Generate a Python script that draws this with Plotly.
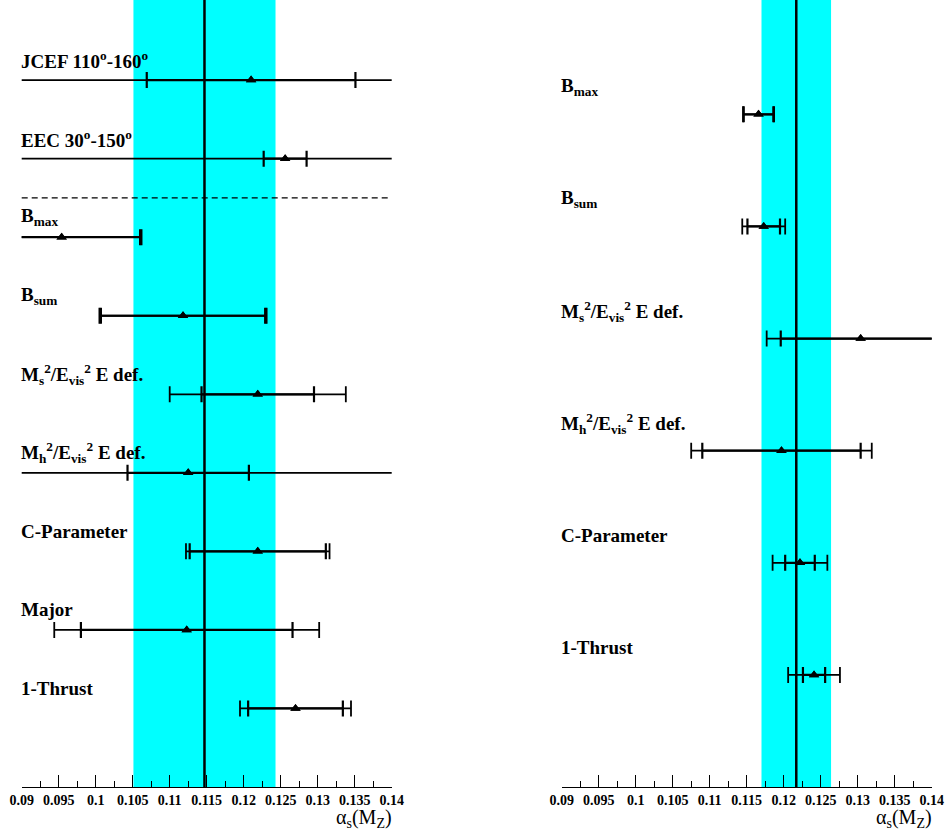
import plotly.graph_objects as go

# ---------------- data ----------------
# Left panel: alpha_s(M_Z) per observable, row index counted from the bottom
left_labels = [
    "1-Thrust",
    "Major",
    "C-Parameter",
    "M<sub>h</sub><sup>2</sup>/E<sub>vis</sub><sup>2</sup> E def.",
    "M<sub>s</sub><sup>2</sup>/E<sub>vis</sub><sup>2</sup> E def.",
    "B<sub>sum</sub>",
    "B<sub>max</sub>",
    "EEC 30<sup>o</sup>-150<sup>o</sup>",
    "JCEF 110<sup>o</sup>-160<sup>o</sup>",
]
left_rows = [1, 2, 3, 4, 5, 6, 7, 8, 9]
left_alpha = [0.1270, 0.1123, 0.1219, 0.1125, 0.1219, 0.1118, 0.0954, 0.1256, 0.1210]
left_stat = [0.0064, 0.0143, 0.0092, 0.0082, 0.0076, 0.0111, 0.0106, 0.0029, 0.0141]
left_total = [0.0075, 0.0179, 0.0097, 0.0300, 0.0119, 0.0113, 0.0108, 0.0400, 0.0350]
left_separator = 7.5
left_mean = 0.1147
left_band_half = 0.0096

# Right panel
right_labels = [
    "1-Thrust",
    "C-Parameter",
    "M<sub>h</sub><sup>2</sup>/E<sub>vis</sub><sup>2</sup> E def.",
    "M<sub>s</sub><sup>2</sup>/E<sub>vis</sub><sup>2</sup> E def.",
    "B<sub>sum</sub>",
    "B<sub>max</sub>",
]
right_rows = [1, 2, 3, 4, 5, 6]
right_alpha = [0.1241, 0.1222, 0.1197, 0.1304, 0.1173, 0.1166]
right_stat = [0.0015, 0.0020, 0.0107, 0.0108, 0.0022, 0.0020]
right_total = [0.0035, 0.0037, 0.0122, 0.0127, 0.0029, 0.0021]
right_mean = 0.1217
right_band_half = 0.0047

tick_vals = [0.09, 0.095, 0.1, 0.105, 0.11, 0.115, 0.12, 0.125, 0.13, 0.135, 0.14]
tick_text = ["0.09", "0.095", "0.1", "0.105", "0.11", "0.115", "0.12", "0.125",
             "0.13", "0.135", "0.14"]
x_range = [0.09, 0.14]

# ---------------- style ----------------
W, H = 946, 835
MARGIN_B = 48
SERIF = "Liberation Serif"
BAND = "#00ffff"

fig = go.Figure()


def add_panel(xa, ya, rows, alpha, stat, total):
    # total uncertainty (outer ticks)
    fig.add_trace(go.Scatter(
        x=alpha, y=rows, xaxis=xa, yaxis=ya, mode="markers",
        marker=dict(symbol="triangle-up", size=9, color="black"),
        error_x=dict(type="data", array=total, symmetric=True,
                     color="black", thickness=1.8, width=8),
        showlegend=False, hoverinfo="skip",
    ))
    # statistical part (inner ticks)
    fig.add_trace(go.Scatter(
        x=alpha, y=rows, xaxis=xa, yaxis=ya, mode="markers",
        marker=dict(symbol="triangle-up", size=9, color="black"),
        error_x=dict(type="data", array=stat, symmetric=True,
                     color="black", thickness=2.2, width=8),
        showlegend=False, hoverinfo="skip",
    ))


add_panel("x", "y", left_rows, left_alpha, left_stat, left_total)
add_panel("x2", "y2", right_rows, right_alpha, right_stat, right_total)

# world-average bands and central values
for xr, yr, mean, half in [("x", "y", left_mean, left_band_half),
                           ("x2", "y2", right_mean, right_band_half)]:
    fig.add_shape(type="rect", xref=xr, yref=f"{yr} domain",
                  x0=mean - half, x1=mean + half, y0=0, y1=1,
                  fillcolor=BAND, line_width=0, layer="below")
    fig.add_shape(type="line", xref=xr, yref=f"{yr} domain",
                  x0=mean, x1=mean, y0=0, y1=1,
                  line=dict(color="black", width=2.5), layer="below")

# dashed separator between the angular-correlation fits and event shapes
fig.add_shape(type="line", xref="x domain", yref="y",
              x0=0, x1=1, y0=left_separator, y1=left_separator,
              line=dict(color="black", width=1.3, dash="6px,4px"))

# row labels
for xr, yr, labels, rows, shift in [("x", "y", left_labels, left_rows, 20),
                                     ("x2", "y2", right_labels, right_rows, 27)]:
    for lab, r in zip(labels, rows):
        fig.add_annotation(
            xref=f"{xr} domain", yref=yr, x=0, y=r, xshift=-3, yshift=shift,
            xanchor="left", yanchor="middle", showarrow=False,
            text=f"<b>{lab}</b>",
            font=dict(family=SERIF, size=19, color="black"),
        )

# axis titles
for xr in ["x", "x2"]:
    fig.add_annotation(
        xref=f"{xr} domain", yref="paper", x=1, y=-32 / (H - MARGIN_B),
        xanchor="right", yanchor="middle", showarrow=False, xshift=2,
        text="α<sub>s</sub>(M<sub>Z</sub>)",
        font=dict(family=SERIF, size=20, color="black"),
    )

xaxis_common = dict(
    range=x_range, showgrid=False, zeroline=False, automargin=False,
    showline=True, linecolor="black", linewidth=1,
    ticks="inside", ticklen=12, tickwidth=1, tickcolor="black",
    tickvals=tick_vals, ticktext=tick_text,
    tickfont=dict(family=SERIF, size=14, color="black", weight="bold"),
    minor=dict(ticks="inside", ticklen=6, tickwidth=1, tickcolor="black",
               dtick=0.0025, tick0=0.09, showgrid=False),
    fixedrange=True,
)

fig.update_layout(
    width=W, height=H,
    margin=dict(l=0, r=0, t=0, b=MARGIN_B, autoexpand=False),
    paper_bgcolor="white", plot_bgcolor="white",
    xaxis=dict(domain=[21.7 / W, 391.7 / W], anchor="y", **xaxis_common),
    xaxis2=dict(domain=[561.7 / W, 931.7 / W], anchor="y2", **xaxis_common),
    yaxis=dict(range=[0, 10.02], visible=False, anchor="x", fixedrange=True),
    yaxis2=dict(range=[0, 7.02], visible=False, anchor="x2", fixedrange=True),
    showlegend=False,
)

fig.write_html("out.html")
